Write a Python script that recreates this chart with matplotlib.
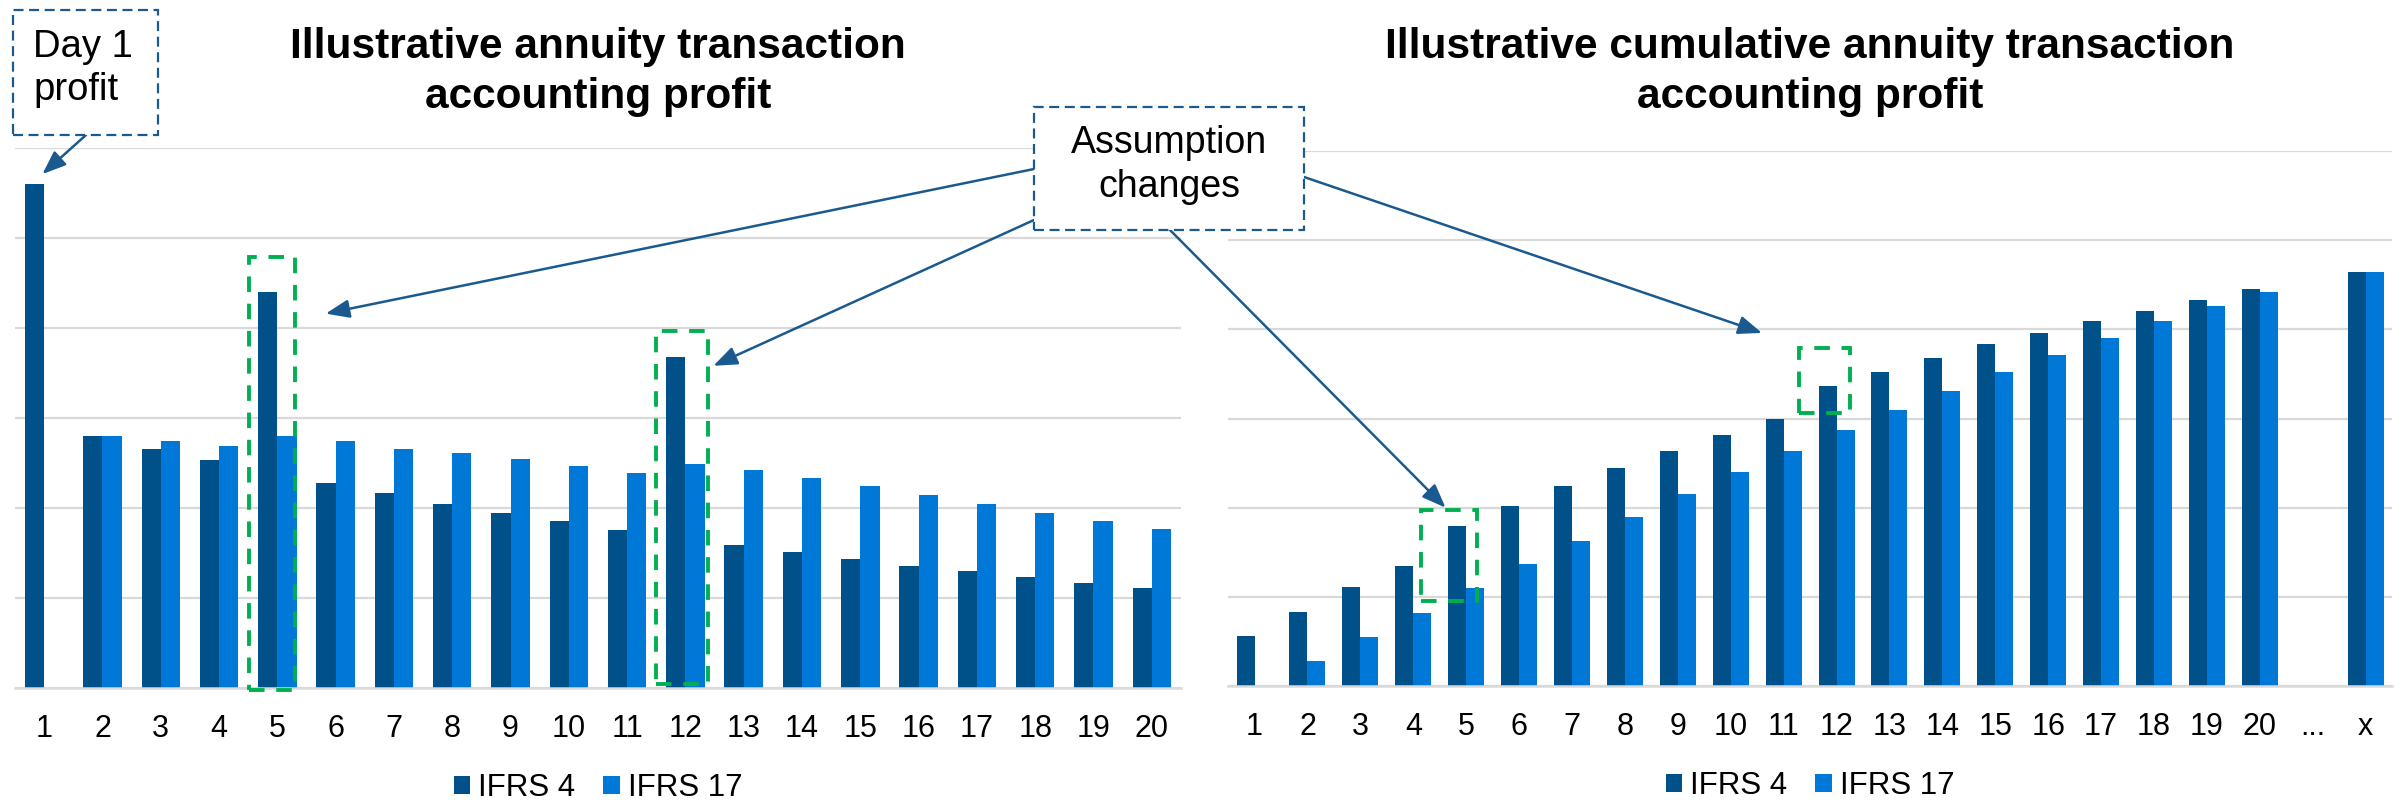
import numpy as np
import matplotlib.pyplot as plt
from matplotlib.patches import Rectangle

plt.rcParams['font.family'] = ['Liberation Sans', 'DejaVu Sans']

DARK = '#00508A'
LIGHT = '#0078D7'
GRID = '#D9D9D9'
NOTE = '#1A5A8E'
GREEN = '#00B050'

years = [str(i) for i in range(1, 21)]

# yearly profit per accounting basis
annual_ifrs4 = [5.60, 2.80, 2.66, 2.53, 4.40, 2.28, 2.17, 2.05, 1.95, 1.86,
                1.76, 3.68, 1.59, 1.51, 1.43, 1.36, 1.30, 1.23, 1.17, 1.11]
annual_ifrs17 = [np.nan, 2.80, 2.74, 2.69, 2.80, 2.75, 2.66, 2.61, 2.54, 2.47,
                 2.39, 2.49, 2.42, 2.33, 2.24, 2.14, 2.04, 1.95, 1.86, 1.77]

# cumulative profit, with a gap before the final year
cum_labels = years + ['...', 'x']
cum_ifrs4 = [0.56, 0.83, 1.11, 1.35, 1.80, 2.02, 2.24, 2.44, 2.63, 2.82, 3.00,
             3.36, 3.52, 3.68, 3.83, 3.96, 4.09, 4.21, 4.33, 4.45, np.nan, 4.64]
cum_ifrs17 = [np.nan, 0.28, 0.55, 0.82, 1.10, 1.37, 1.63, 1.90, 2.15, 2.40, 2.64,
              2.87, 3.09, 3.31, 3.52, 3.71, 3.90, 4.09, 4.26, 4.42, np.nan, 4.64]


def px(x, y):
    # pixel position from the top-left corner -> figure fraction
    return x / 2400, 1 - y / 800


def draw_bars(ax, labels, ifrs4, ifrs17, width):
    x = np.arange(1, len(labels) + 1)
    ax.bar(x - width, ifrs4, width, align='edge', color=DARK, label='IFRS 4', zorder=2)
    ax.bar(x, ifrs17, width, align='edge', color=LIGHT, label='IFRS 17', zorder=2)
    ax.set_xlim(0.5, len(labels) + 0.5)
    ax.set_ylim(0, 6)
    ax.set_yticks(range(7))
    ax.set_xticks(x)
    ax.set_xticklabels(labels)
    ax.tick_params(axis='x', length=0, pad=19, labelsize=22)
    ax.tick_params(axis='y', length=0, labelleft=False)
    ax.grid(axis='y', color=GRID, lw=1.6)
    ax.set_axisbelow(True)
    for side in ('left', 'right', 'top'):
        ax.spines[side].set_visible(False)
    ax.spines['bottom'].set_color(GRID)
    ax.spines['bottom'].set_linewidth(1.8)
    # legend sits ~100 px under the baseline
    h_px = ax.get_position().height * 800
    ax.legend(loc='center', bbox_to_anchor=(0.5, -100 / h_px), ncol=2, frameon=False,
              fontsize=22.5, handlelength=0.52, handleheight=0.52,
              handletextpad=0.26, columnspacing=0.9, borderpad=0)


def title(ax, lines, y_lines):
    pos = ax.get_position()
    xc = (pos.x0 + pos.x1) / 2
    for text, y in zip(lines, y_lines):
        fig.text(xc, px(0, y)[1], text, ha='center', va='baseline',
                 fontsize=30.5, fontweight='bold')


def note_box(x0, y0, x1, y1):
    fx, fy = px(x0, y1)
    fig.patches.append(Rectangle((fx, fy), (x1 - x0) / 2400, (y1 - y0) / 800,
                                 transform=fig.transFigure, facecolor='white',
                                 edgecolor=NOTE, lw=1.6, ls=(0, (4.5, 2.5)),
                                 zorder=4))


def arrow(ax, start, target):
    ax.annotate('', xy=target, xycoords='data', xytext=px(*start),
                textcoords='figure fraction', annotation_clip=False,
                arrowprops=dict(arrowstyle='-|>,head_length=0.9,head_width=0.35',
                                mutation_scale=16, color=NOTE, lw=1.8,
                                shrinkA=0, shrinkB=0), zorder=5)


def highlight(ax, x0, y0, w, h):
    ax.add_patch(Rectangle((x0, y0), w, h, fill=False, edgecolor=GREEN, lw=2.8,
                           ls=(0, (4, 3)), clip_on=False, zorder=4))


fig = plt.figure(figsize=(24, 8), dpi=100)
ax1 = fig.add_axes([0.00625, 0.14, 0.4858, 0.675])
ax2 = fig.add_axes([0.5117, 0.1425, 0.485, 0.66875])

draw_bars(ax1, years, annual_ifrs4, annual_ifrs17, 0.33)
draw_bars(ax2, cum_labels, cum_ifrs4, cum_ifrs17, 0.34)

title(ax1, ['Illustrative annuity transaction', 'accounting profit'], [58, 108])
title(ax2, ['Illustrative cumulative annuity transaction', 'accounting profit'], [58, 108])

# highlighted years where assumptions change
highlight(ax1, 4.52, -0.02, 0.79, 4.81)
highlight(ax1, 11.50, 0.05, 0.89, 3.92)
highlight(ax2, 4.14, 0.95, 1.07, 1.02)
highlight(ax2, 11.29, 3.06, 0.96, 0.73)

# "Day 1 profit" callout
note_box(13, 10, 158, 135)
fig.text(*px(33, 57), 'Day 1', fontsize=27.5, va='baseline', zorder=6)
fig.text(*px(33, 100), 'profit', fontsize=27.5, va='baseline', zorder=6)
arrow(ax1, (86, 135), (0.97, 5.71))

# "Assumption changes" callout
note_box(1034, 107, 1304, 230)
fig.text(*px(1169, 153), 'Assumption', fontsize=27, ha='center', va='baseline', zorder=6)
fig.text(*px(1169, 197), 'changes', fontsize=27, ha='center', va='baseline', zorder=6)
arrow(ax1, (1034, 169), (5.83, 4.16))
arrow(ax1, (1034, 220), (12.48, 3.58))
arrow(ax2, (1170, 230), (4.61, 2.00))
arrow(ax2, (1304, 177), (10.59, 3.96))

fig.savefig('out.png', dpi=100)
